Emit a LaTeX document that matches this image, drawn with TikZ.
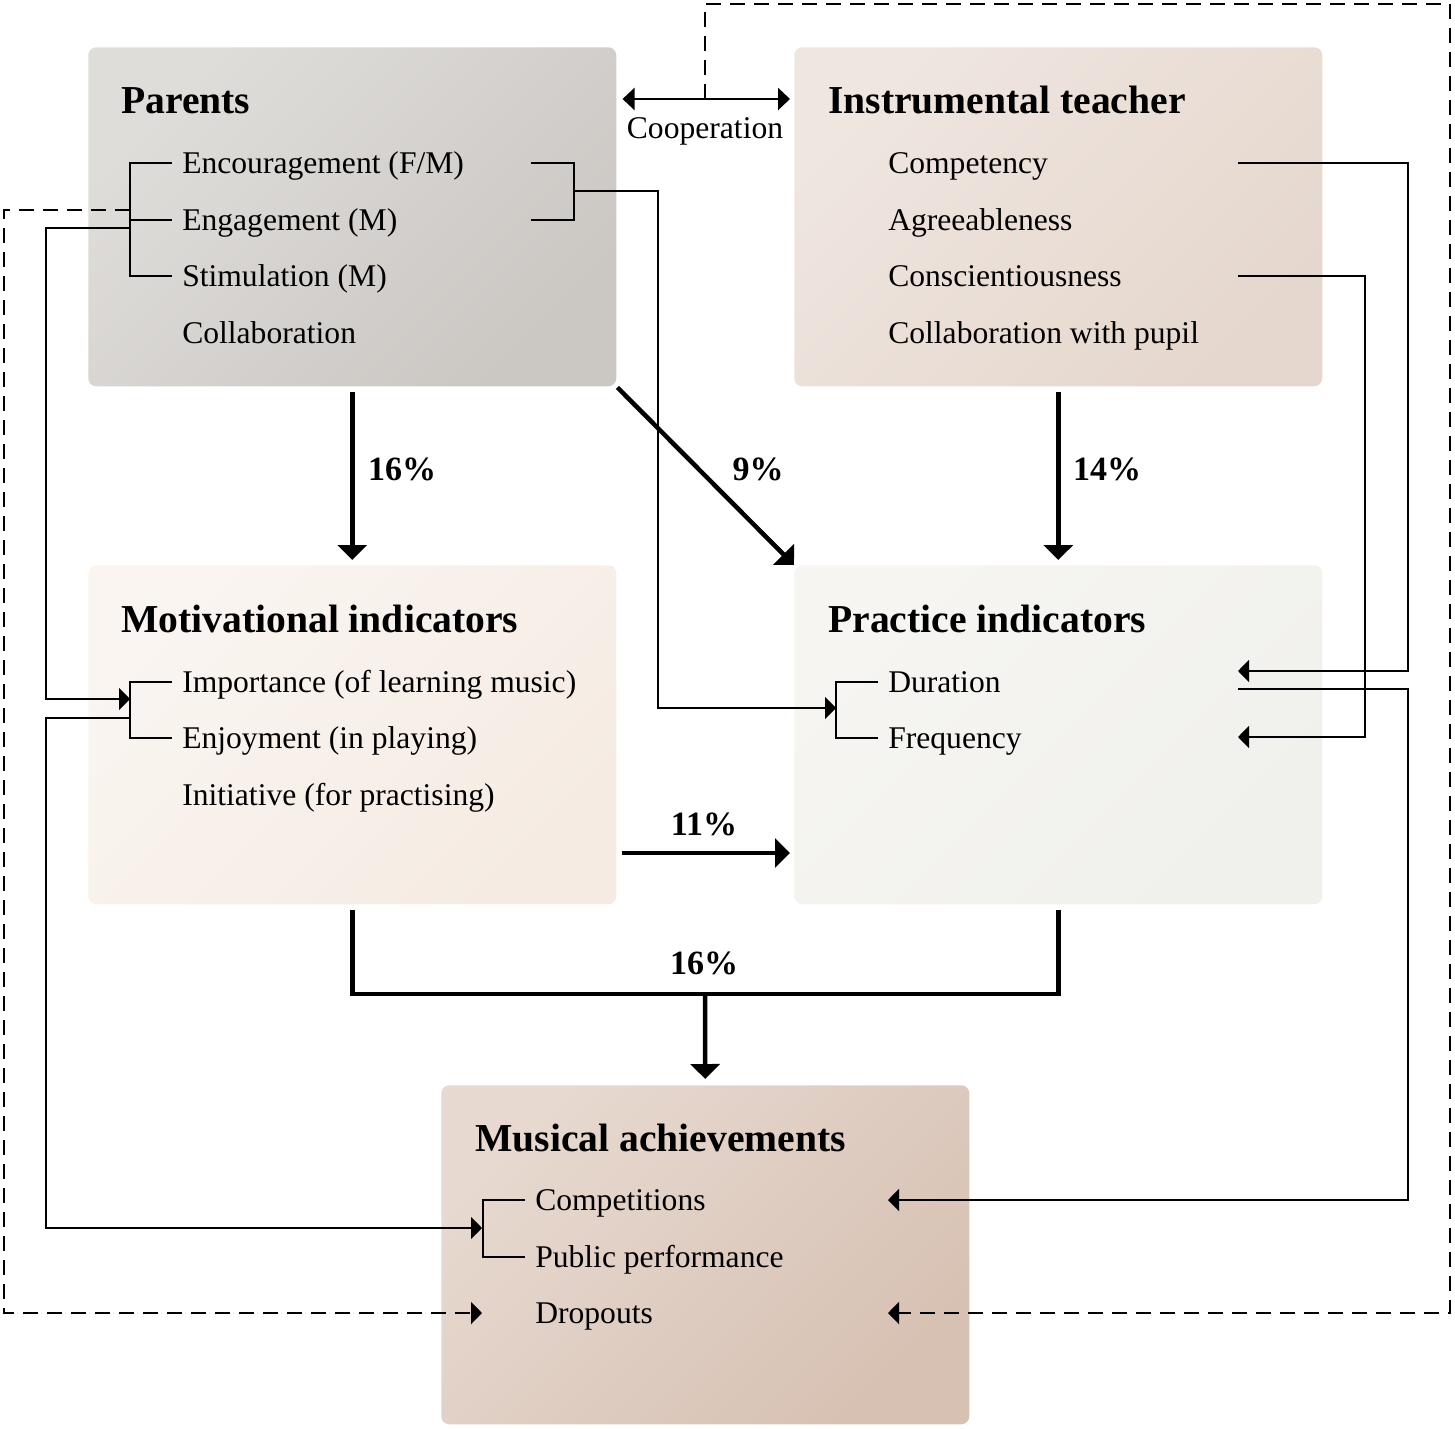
\documentclass[tikz,border=0pt]{standalone}
\usepackage{fontspec}
\setmainfont{Liberation Serif}
\usetikzlibrary{arrows.meta,positioning,calc}

\definecolor{parentsA}{RGB}{223,221,218}
\definecolor{parentsB}{RGB}{203,199,195}
\definecolor{teacherA}{RGB}{239,230,224}
\definecolor{teacherB}{RGB}{229,215,205}
\definecolor{motivA}{RGB}{250,245,241}
\definecolor{motivB}{RGB}{245,235,226}
\definecolor{practA}{RGB}{246,245,242}
\definecolor{practB}{RGB}{240,240,236}
\definecolor{musicA}{RGB}{231,217,208}
\definecolor{musicB}{RGB}{215,193,179}

\begin{document}
\begin{tikzpicture}[x=0.75pt,y=0.75pt,yscale=-1,xscale=1,
  panel/.style={rounded corners=6pt, minimum width=396pt, minimum height=254.25pt,
    anchor=north west, inner sep=0pt},
  heading/.style={anchor=base west, inner sep=0pt, font=\fontsize{29.7}{33}\selectfont\bfseries},
  item/.style={anchor=base west, inner sep=0pt, font=\fontsize{23.7}{27}\selectfont},
  share/.style={anchor=base, inner sep=0pt, font=\fontsize{25.5}{29}\selectfont\bfseries},
  thinline/.style={line width=1.5pt},
  thintip/.style={-{Triangle[width=16.5pt,length=8.25pt]}},
  heavy/.style={line width=3.4pt},
  heavytip/.style={heavy, -{Triangle[width=21.75pt,length=11.25pt]}},
  dashline/.style={line width=1.7pt, dash pattern=on 11pt off 7pt}
]
\useasboundingbox (0,0) rectangle (1455,1428);

% boxes
\node (parents) [panel, top color=parentsA, bottom color=parentsB, shading angle=45] at (88,47) {};
\node (teacher) [panel, top color=teacherA, bottom color=teacherB, shading angle=45] at (794,47) {};
\node (motiv) [panel, top color=motivA, bottom color=motivB, shading angle=45] at (88,565) {};
\node (practice) [panel, top color=practA, bottom color=practB, shading angle=45] at (794,565) {};
\node (music) [panel, top color=musicA, bottom color=musicB, shading angle=45] at (441,1085) {};

% Parents
\node (parTitle) [heading] at (121,113) {Parents};
\node (encour) [item] at (182,173) {Encouragement (F/M)};
\node (engage) [item] at (182,230) {Engagement (M)};
\node (stimul) [item] at (182,286) {Stimulation (M)};
\node (parColl) [item] at (182,343) {Collaboration};

% Instrumental teacher
\node (teaTitle) [heading] at (828,113) {Instrumental teacher};
\node (compet) [item] at (888,173) {Competency};
\node (agree) [item] at (888,230) {Agreeableness};
\node (consc) [item] at (888,286) {Conscientiousness};
\node (teaColl) [item] at (888,343) {Collaboration with pupil};

% Motivational indicators
\node (motTitle) [heading] at (121,632) {Motivational indicators};
\node (import) [item] at (182,692) {Importance (of learning music)};
\node (enjoy) [item] at (182,748) {Enjoyment (in playing)};
\node (initia) [item] at (182,805) {Initiative (for practising)};

% Practice indicators
\node (praTitle) [heading] at (828,632) {Practice indicators};
\node (durat) [item] at (888,692) {Duration};
\node (freq) [item] at (888,748) {Frequency};

% Musical achievements
\node (musTitle) [heading] at (475,1151) {Musical achievements};
\node (compt) [item] at (535,1210) {Competitions};
\node (public) [item] at (535,1267) {Public performance};
\node (dropout) [item] at (535,1323) {Dropouts};

% brackets
\draw[thinline] ($(encour.base west)+(-10,-10)$) -| ($(stimul.base west)+(-52,-10)$) -- ($(stimul.base west)+(-10,-10)$);
\draw[thinline] ($(engage.base west)+(-52,-10)$) -- ($(engage.base west)+(-10,-10)$);
\draw[thinline] ($(import.base west)+(-10,-10)$) -| ($(enjoy.base west)+(-52,-10)$) -- ($(enjoy.base west)+(-10,-10)$);
\draw[thinline] ($(durat.base west)+(-10,-10)$) -| ($(freq.base west)+(-52,-10)$) -- ($(freq.base west)+(-10,-10)$);
\draw[thinline] ($(compt.base west)+(-10,-10)$) -| ($(public.base west)+(-52,-10)$) -- ($(public.base west)+(-10,-10)$);

% ports
\coordinate (parR1) at (531,163);
\coordinate (parR2) at (531,220);
\coordinate (parRj) at (574,191);
\coordinate (parRx) at (658,191);
\coordinate (praIn) at (836,708);
\coordinate (parL) at (130,228);
\coordinate (leftA) at (46,228);
\coordinate (motIn) at (130,699);
\coordinate (motOut) at (130,718);
\coordinate (leftB) at (46,718);
\coordinate (musIn) at (482,1228);
\coordinate (compOut) at (1238,163);
\coordinate (rightA) at (1408,163);
\coordinate (durIn) at (1238,671);
\coordinate (consOut) at (1238,276);
\coordinate (rightB) at (1365,276);
\coordinate (freqIn) at (1238,737);
\coordinate (durOut) at (1238,689);
\coordinate (rightC) at (1408,689);
\coordinate (comptIn) at (888,1200);
\coordinate (coop) at (705,99);
\coordinate (dashTR) at (1450,4);
\coordinate (dashL) at (130,210);
\coordinate (dashBL) at (4,1313);
\coordinate (dropL) at (482,1313);
\coordinate (dropR) at (888,1313);
\coordinate (join) at (705,994);
\coordinate (m2p) at (0,853);

% thin connectors
\draw[thinline] (parR1) -| (parRj) |- (parR2);
\draw[thinline, thintip] (parRj) -- (parRx) |- (praIn);
\draw[thinline, thintip] (parL) -- (leftA) |- (motIn);
\draw[thinline, thintip] (motOut) -- (leftB) |- (musIn);
\draw[thinline, thintip] (compOut) -- (rightA) |- (durIn);
\draw[thinline, thintip] (consOut) -- (rightB) |- (freqIn);
\draw[thinline, thintip] (durOut) -- (rightC) |- (comptIn);

% dashed connectors
\draw[dashline, thintip] (coop) |- (dashTR) |- (dropR);
\draw[dashline, thintip] (dashL) -| (dashBL) -- (dropL);

% cooperation
\draw[line width=1.8pt, {Triangle[width=16.5pt,length=9pt]}-{Triangle[width=16.5pt,length=9pt]}, shorten <=4.5pt, shorten >=3pt] (parents.east |- coop) -- (teacher.west |- coop);
\node (coopLabel) [item, anchor=base] at (705,138) {Cooperation};

% main effects
\draw[heavytip, shorten <=3.75pt, shorten >=3.75pt] (parents.south) -- (motiv.north);
\draw[heavytip, shorten <=3.75pt, shorten >=3.75pt] (teacher.south) -- (practice.north);
\draw[heavytip, shorten <=1pt] (parents.south east) -- (practice.north west);
\draw[heavytip, shorten <=3.75pt, shorten >=3pt] (motiv.east |- m2p) -- (practice.west |- m2p);
\draw[heavy, shorten <=3.75pt, shorten >=3.75pt] (motiv.south) |- (join) -| (practice.south);
\draw[heavytip, shorten >=4.5pt] (join) -- (music.north);

\node (pctA) [share] at (402,480) {16\%};
\node (pctB) [share] at (758,480) {9\%};
\node (pctC) [share] at (1107,480) {14\%};
\node (pctD) [share] at (704,835) {11\%};
\node (pctE) [share] at (704,974) {16\%};

\end{tikzpicture}
\end{document}
